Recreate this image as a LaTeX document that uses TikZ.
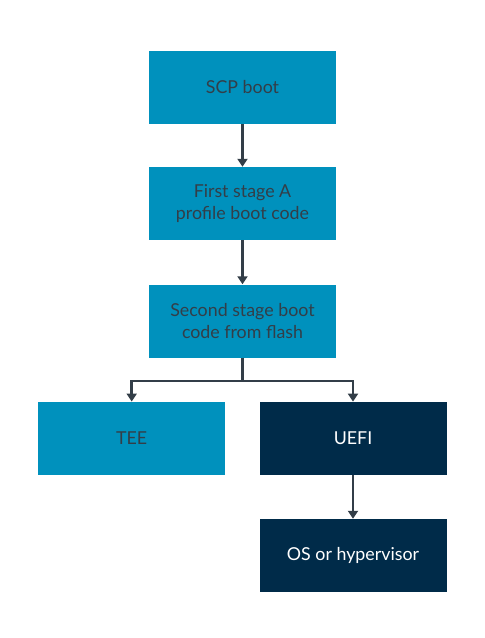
\documentclass[tikz,border=0pt]{standalone}
\usepackage{fontspec}
\setmainfont{Lato}
\usetikzlibrary{arrows.meta}
\definecolor{armblue}{HTML}{0091BD}
\definecolor{armnavy}{HTML}{002B49}
\definecolor{armgray}{HTML}{333E48}
\begin{document}
\begin{tikzpicture}[x=1pt,y=-1pt,
  box/.style={minimum width=187pt,minimum height=73pt,inner sep=0pt,align=center,font=\fontsize{17.8}{21.5}\selectfont},
  bluebox/.style={box,fill=armblue,text=armgray},
  navybox/.style={box,fill=armnavy,text=white},
  conn/.style={draw=armgray,line width=2.7pt,-{Triangle[length=8pt,width=10pt]}}]
\useasboundingbox (0,0) rectangle (485,638);
\node[bluebox] (scp) at (242.5,87.3) {SCP boot};
\node[bluebox] (first) at (242.5,203.5) {First stage A\\profile boot code};
\node[bluebox] (second) at (242.5,321) {Second stage boot\\code from flash};
\node[bluebox] (tee) at (131.7,438.3) {TEE};
\node[navybox] (uefi) at (353,438.3) {UEFI};
\node[navybox] (os) at (353,555.5) {OS or hypervisor};
\coordinate (split) at (242.5,381);
\draw[conn] (scp) -- (first);
\draw[conn] (first) -- (second);
\draw[conn] (second.south) -- (split) -| (tee.north);
\draw[conn] (split) -| (uefi.north);
\draw[conn] (uefi) -- (os);
\end{tikzpicture}
\end{document}
